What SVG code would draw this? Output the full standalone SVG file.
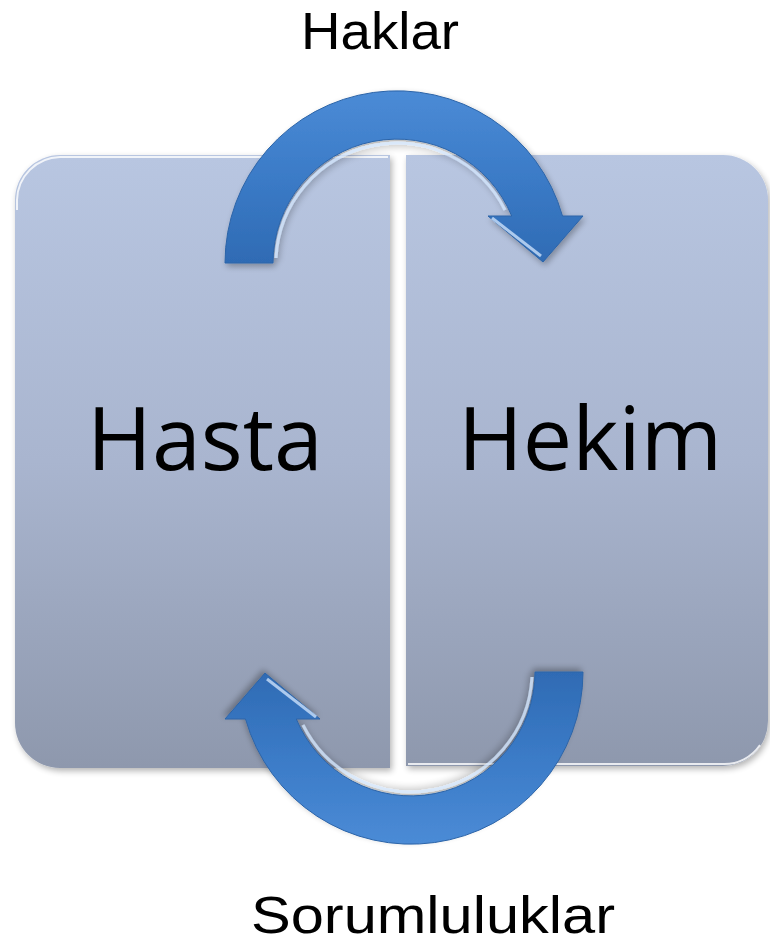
<svg xmlns="http://www.w3.org/2000/svg" width="770" height="946" viewBox="0 0 770 946">
  <style>
    .lbl { font-family: "Open Sans", "Noto Sans", "Liberation Sans", sans-serif; fill: #000; text-anchor: middle; }
    .big { font-size: 88px; }
    .small { font-family: "Liberation Sans", Arial, sans-serif; font-size: 52px; }
    .panel { fill: url(#panelGrad); }
    .edge { fill: none; stroke: #ffffff; stroke-opacity: 0.8; stroke-width: 2; }
    .arrow { fill: url(#arrowGrad); stroke: #2c64a8; stroke-width: 1; }
    .glint { fill: none; stroke: #d6e8ff; stroke-width: 3; stroke-opacity: 0.75; }
  </style>
  <defs>
    <linearGradient id="panelGrad" x1="0" y1="0" x2="0" y2="1">
      <stop offset="0" stop-color="#b8c6e1"/>
      <stop offset="0.5" stop-color="#a9b5cf"/>
      <stop offset="1" stop-color="#8e98ad"/>
    </linearGradient>
    <linearGradient id="arrowGrad" x1="0" y1="0" x2="0" y2="1">
      <stop offset="0" stop-color="#4b8bd6"/>
      <stop offset="0.5" stop-color="#3b7bc7"/>
      <stop offset="1" stop-color="#2f6bb4"/>
    </linearGradient>
    <filter id="shadow" x="-10%" y="-10%" width="120%" height="120%">
      <feGaussianBlur in="SourceAlpha" stdDeviation="3"/>
      <feOffset dx="2" dy="3" result="b"/>
      <feComponentTransfer><feFuncA type="linear" slope="0.3"/></feComponentTransfer>
      <feMerge><feMergeNode/><feMergeNode in="SourceGraphic"/></feMerge>
    </filter>
    <path id="arrowShape" d="M225,263 A172,172 0 0 1 562.5,216 L583,216 L543,262 L488,216 L511.7,216 A124,124 0 0 0 273,263 Z"/>
  </defs>

  <rect width="770" height="946" fill="#ffffff"/>

  <g id="node-hasta" filter="url(#shadow)">
    <path class="panel" d="M60,155 H390 V768 H60 A45,45 0 0 1 15,723 V200 A45,45 0 0 1 60,155 Z"/>
    <path class="edge" d="M17,210 V200 A44,44 0 0 1 60,157 H388"/>
    <text class="lbl big" x="205" y="470">Hasta</text>
  </g>

  <g id="node-hekim" filter="url(#shadow)">
    <path class="panel" d="M406,155 H723 A45,45 0 0 1 768,200 V721 A45,45 0 0 1 723,766 H406 Z"/>
    <path class="edge" d="M408,764 H723 A43,43 0 0 0 760,745"/>
    <text class="lbl big" x="590" y="470">Hekim</text>
  </g>

  <g id="connectors">
    <g id="arrow-haklar" filter="url(#shadow)">
      <use href="#arrowShape" class="arrow"/>
      <path class="glint" d="M276,258 A121,121 0 0 1 505,210"/>
      <path class="glint" d="M492,218 L541,256"/>
    </g>
    <g id="arrow-sorumluluklar" filter="url(#shadow)" transform="rotate(180 404 467.5)">
      <use href="#arrowShape" class="arrow"/>
      <path class="glint" d="M276,258 A121,121 0 0 1 505,210"/>
      <path class="glint" d="M492,218 L541,256"/>
    </g>
    <text class="lbl small" x="380" y="49" textLength="158" lengthAdjust="spacingAndGlyphs">Haklar</text>
    <text class="lbl small" x="433" y="933" textLength="364" lengthAdjust="spacingAndGlyphs">Sorumluluklar</text>
  </g>
</svg>
